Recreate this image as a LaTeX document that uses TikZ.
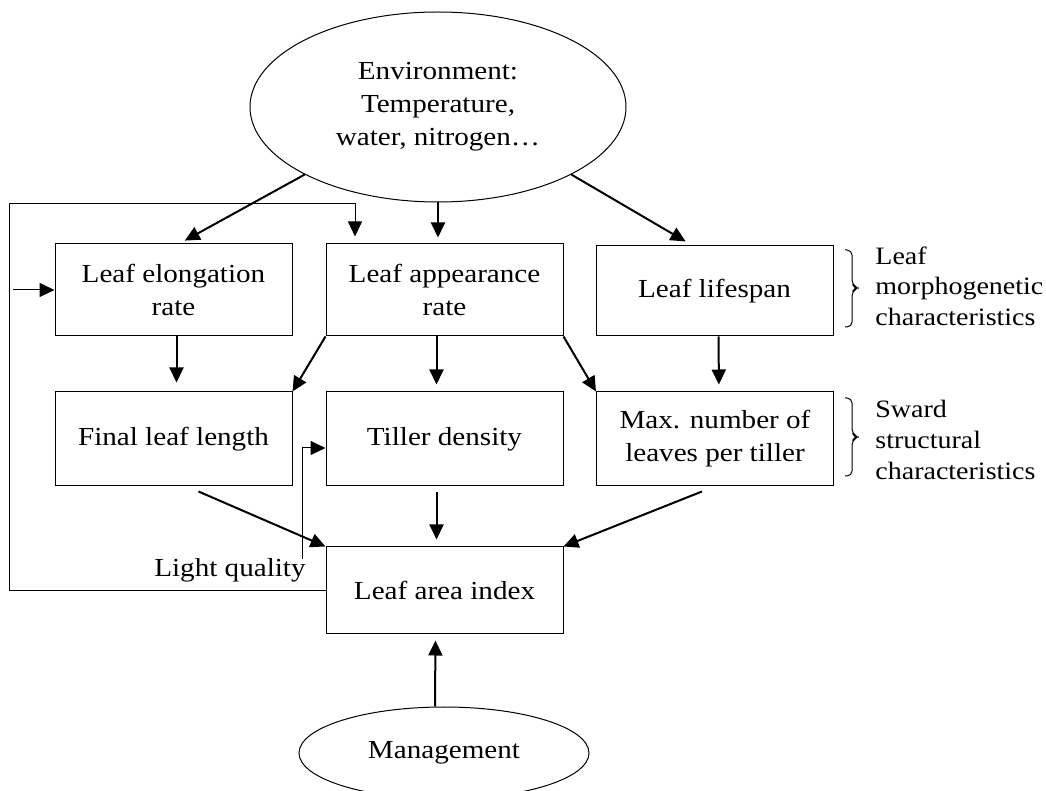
\documentclass[tikz,border=0pt]{standalone}
\usepackage{fontspec}
\setmainfont{Liberation Serif}[FakeStretch=1.12]
\usetikzlibrary{arrows.meta,shapes.geometric}

\begin{document}
\begin{tikzpicture}[x=0.5pt,y=-0.5pt,
	font=\fontsize{13pt}{16.5pt}\selectfont,
	box/.style={draw, line width=0.5pt, minimum width=118.5pt, align=center, inner sep=0pt},
	oval/.style={ellipse, draw, line width=0.5pt, inner sep=0pt, align=center},
	side/.style={anchor=north west, inner sep=0pt, align=left, font=\fontsize{12.5pt}{15.5pt}\selectfont},
	arr/.style={-{Triangle[length=7.5pt,width=7pt]}, line width=1pt},
	thinarr/.style={-{Triangle[length=7.5pt,width=7pt]}, line width=0.5pt},
	brace/.style={line width=0.5pt, rounded corners=2.5pt}]
	\useasboundingbox (0,0) rectangle (1046,791);
	\node[oval, minimum width=188pt, minimum height=95pt] (env) at (438,107) {Environment:\\Temperature,\\water, nitrogen…};
	\node[box, minimum height=46pt] (elong) at (173.5,290) {Leaf elongation\\rate};
	\node[box, minimum height=46pt] (app) at (444.5,290) {Leaf appearance\\rate};
	\node[box, minimum height=45pt] (life) at (714.5,291) {Leaf lifespan};
	\node[box, minimum height=47pt] (final) at (173.5,439) {Final leaf length};
	\node[box, minimum height=47pt] (tiller) at (444.5,439) {Tiller density};
	\node[box, minimum height=47pt] (max) at (715,439) {Max. number of\\leaves per tiller};
	\node[box, minimum height=43.5pt] (lai) at (444.5,590.5) {Leaf area index};
	\node[oval, minimum width=145pt, minimum height=46pt] (mgmt) at (444,753) {Management};
	\node[anchor=base east, inner sep=0pt] (light) at (306,577) {Light quality};
	\node[side] (morpho) at (875,246) {Leaf\\morphogenetic\\characteristics};
	\node[side] (sward) at (875,400) {Sward\\structural\\characteristics};
	\coordinate (fb) at (9,204);
	% environment
	\draw[arr, shorten >=3pt] (env.south west) -- ([xshift=3pt]elong.north);
	\draw[arr, shorten >=3pt] (env.south) -- (env.south |- app.north);
	\draw[arr, shorten >=4pt] (env.south east) -- ([xshift=-11pt]life.north);
	% first row to second row
	\draw[arr, shorten >=4.5pt] ([xshift=1.5pt]elong.south) -- ([xshift=1.5pt]final.north);
	\draw[arr] (app.south west) -- (final.north east);
	\draw[arr, shorten >=3.5pt] ([xshift=-4pt]app.south) -- ([xshift=-4pt]tiller.north);
	\draw[arr] (app.south east) -- (max.north west);
	\draw[arr, shorten >=3.5pt] ([xshift=2pt]life.south) -- ([xshift=2pt]max.north);
	% second row to leaf area index
	\draw[arr] ([xshift=12.5pt,yshift=-2.5pt]final.south) -- (lai.north west);
	\draw[arr, shorten >=3.5pt] ([xshift=-4pt,yshift=-3pt]tiller.south) -- ([xshift=-4pt]lai.north);
	\draw[arr] ([xshift=-6.5pt,yshift=-2.5pt]max.south) -- (lai.north east);
	\draw[arr, shorten >=3pt] ([xshift=-4.5pt]mgmt.north) -- ([xshift=-4.5pt]lai.south);
	% feedback
	\draw[thinarr, shorten >=3.5pt] (lai.west) -| (fb) -| ([xshift=-44.75pt]app.north);
	\draw[thinarr, shorten <=2pt] (fb |- elong.west) -- (elong.west);
	\draw[thinarr] ([xshift=-2pt]light.north east) |- ([yshift=-4.5pt]tiller.west);
	% braces
	\draw[brace] (845,250) -- (852,250) -- (852,285) -- (858,288) -- (852,291) -- (852,327) -- (845,327);
	\draw[brace] (845,398) -- (852,398) -- (852,434) -- (858,437) -- (852,440) -- (852,476) -- (845,476);
\end{tikzpicture}
\end{document}
